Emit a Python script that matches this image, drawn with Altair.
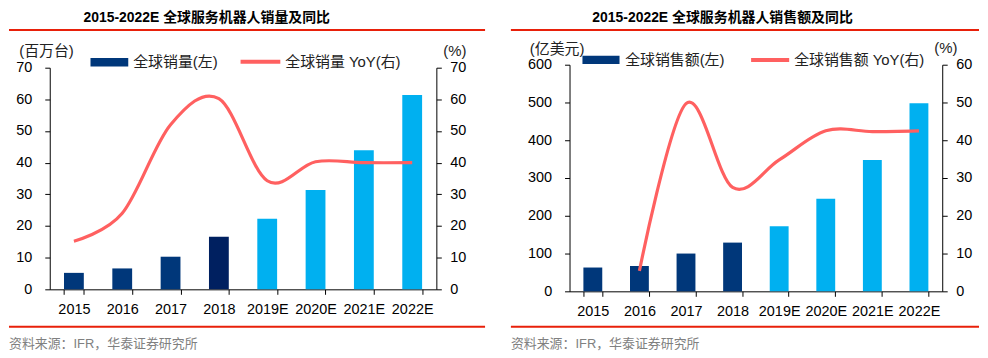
import altair as alt
import pandas as pd

# ---------------- data ----------------
years = ['2015', '2016', '2017', '2018', '2019E', '2020E', '2021E', '2022E']
units = [5.2, 6.6, 10.3, 16.6, 22.3, 31.4, 43.9, 61.4]          # 百万台
units_yoy = [15.2, 24.0, 52.0, 60.2, 34.3, 40.3, 40.0, 40.0]    # %
sales = [63, 67, 100, 129, 172, 245, 348, 498]                   # 亿美元
sales_yoy = [None, 5.4, 49.7, 27.5, 34.8, 42.5, 42.3, 42.5]      # %

ticks_units = [0, 10, 20, 30, 40, 50, 60, 70]
ticks_units_yoy = [0, 10, 20, 30, 40, 50, 60, 70]
ticks_sales = [0, 100, 200, 300, 400, 500, 600]
ticks_sales_yoy = [0, 10, 20, 30, 40, 50, 60]

title1 = '2015-2022E 全球服务机器人销量及同比'
title2 = '2015-2022E 全球服务机器人销售额及同比'
unit1_left, unit1_right = '(百万台)', '(%)'
unit2_left, unit2_right = '(亿美元)', '(%)'
legend1_bar, legend1_line = '全球销量(左)', '全球销量 YoY(右)'
legend2_bar, legend2_line = '全球销售额(左)', '全球销售额 YoY(右)'
source = '资料来源：IFR，华泰证券研究所'

# ---------------- style ----------------
NUM_FONT = 'Liberation Sans'
CJK_FONT = 'Liberation Sans, Noto Sans CJK SC'
DARK = '#00377A'
NAVY = '#002060'
CYAN = '#00B0F0'
LINE = '#FF6060'
RED = '#E8200A'
GRAY = '#808080'
colors1 = [DARK, DARK, DARK, NAVY, CYAN, CYAN, CYAN, CYAN]
colors2 = [DARK, DARK, DARK, DARK, CYAN, CYAN, CYAN, CYAN]

one = pd.DataFrame({'k': [0]})


def txt(t, x, y, size, color='#222222', bold=False, align='left'):
    return alt.Chart(pd.DataFrame({'t': [t]})).mark_text(
        align=align, baseline='middle', fontSize=size, font=CJK_FONT,
        fontWeight='bold' if bold else 'normal', color=color
    ).encode(text='t:N', x=alt.value(x), y=alt.value(y))


def hrule(x1, x2, y, color, w):
    return alt.Chart(one).mark_rule(color=color, strokeWidth=w).encode(
        x=alt.value(x1), x2=alt.value(x2), y=alt.value(y))


def box(x1, x2, y1, y2, color, opacity=1.0):
    return alt.Chart(one).mark_rect(color=color, opacity=opacity).encode(
        x=alt.value(x1), x2=alt.value(x2), y=alt.value(y1), y2=alt.value(y2))


def panel(vals, yoy, lmax, lticks, rmax, rticks, colors, w, h, top, pad, deco):
    df = pd.DataFrame({'year': years, 'v': vals, 'yoy': yoy})
    xenc = alt.X('year:N', sort=years,
                 scale=alt.Scale(paddingInner=pad, paddingOuter=pad / 2),
                 axis=alt.Axis(title=None, labelAngle=0, tickBand='extent',
                               labelPadding=8, labelOverlap=False, labelFlush=False))
    bars = alt.Chart(df).mark_bar().encode(
        x=xenc,
        y=alt.Y('v:Q', scale=alt.Scale(domain=[0, lmax], nice=False, range=[h, top]),
                axis=alt.Axis(title=None, orient='left', values=lticks, labelPadding=13)),
        color=alt.Color('year:N', scale=alt.Scale(domain=years, range=colors), legend=None),
    )
    line = alt.Chart(df).transform_filter('isValid(datum.yoy)').mark_line(
        interpolate='cardinal', color=LINE, strokeWidth=3.2
    ).encode(
        x=xenc,
        y=alt.Y('yoy:Q', scale=alt.Scale(domain=[0, rmax], nice=False, range=[h, top]),
                axis=alt.Axis(title=None, orient='right', values=rticks, labelPadding=8.5)),
    )
    return alt.layer(bars, line, *deco).resolve_scale(y='independent').properties(width=w, height=h)


# panel 1: plot origin at page (50, 64); plot area 67..290
deco1 = [
    box(-42, -41.5, -56, -55.5, '#ffffff', 0.0),
    txt(title1, 158, -46.7, 14, '#000000', True, 'center'),
    hrule(-41, 438, -35, RED, 2),
    hrule(-41, 438, 263.7, RED, 2),
    txt(source, -41, 281.5, 13, GRAY),
    txt(unit1_left, -30.7, -14, 15),
    txt(unit1_right, 396, -14, 15),
    box(41, 79, -6.7, 1.7, DARK),
    txt(legend1_bar, 84, -2.5, 15),
    hrule(192, 232, -3, LINE, 4),
    txt(legend1_line, 237, -2.5, 15),
]

# panel 2: plot origin at page (573, 64); plot area 64..292
deco2 = [
    txt(title2, 154, -46.7, 14, '#000000', True, 'center'),
    hrule(-59, 412, -35, RED, 2),
    hrule(-59, 412, 263.7, RED, 2),
    txt(source, -59, 281.5, 13, GRAY),
    txt(unit2_left, -40, -15.7, 15),
    txt(unit2_right, 367, -16.5, 15),
    box(13, 50.3, -9, -0.7, DARK),
    txt(legend2_bar, 56, -4.5, 15),
    hrule(182.7, 221, -4.7, LINE, 4),
    txt(legend2_line, 226, -4.5, 15),
]

p1 = panel(units, units_yoy, 70, ticks_units, 70, ticks_units_yoy, colors1, 389, 226, 3, 0.59, deco1)
p2 = panel(sales, sales_yoy, 600, ticks_sales, 60, ticks_sales_yoy, colors2, 375, 228, 0, 0.595, deco2)

chart = alt.hconcat(p1, p2, spacing=134, bounds='flush', padding=0).resolve_scale(
    color='independent', x='independent', y='independent'
).configure_view(
    stroke=None
).configure_axis(
    domainColor='#000000', tickColor='#000000', labelColor='#000000',
    labelFont=NUM_FONT, labelFontSize=14.5, tickSize=5, grid=False,
    domainWidth=1, tickWidth=1
)

chart.save('out.html', embed_options={'renderer': 'svg', 'actions': False})
